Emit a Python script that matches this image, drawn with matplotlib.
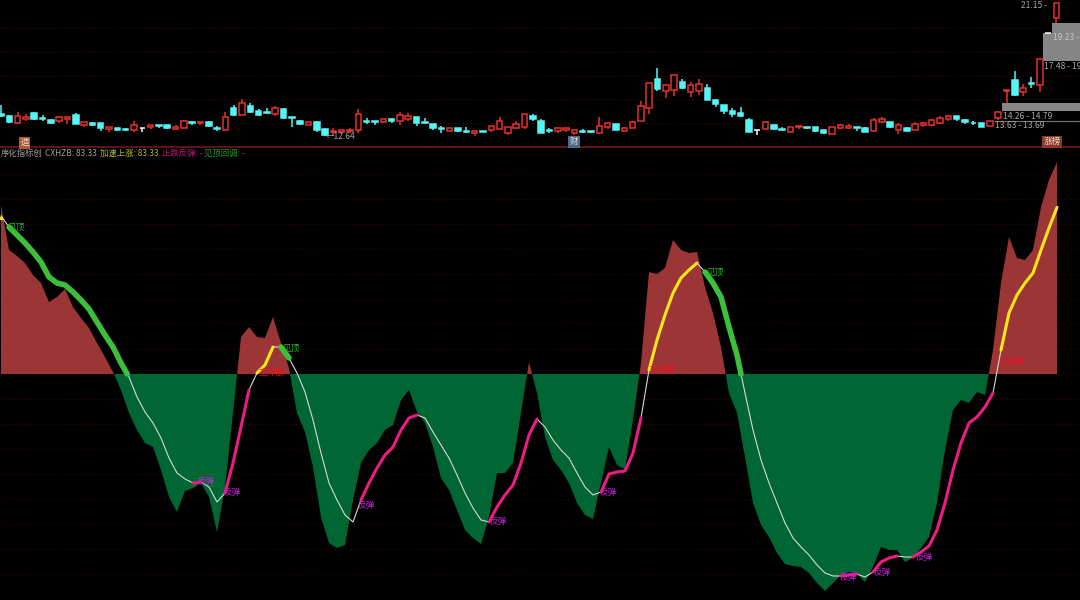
import numpy as np
import matplotlib
matplotlib.use('Agg')
import matplotlib.pyplot as plt

plt.rcParams['font.family'] = ['Noto Sans CJK SC', 'DejaVu Sans']

# candles
open_ = [14.07, 14.00, 13.53, 13.78, 14.16, 13.85, 13.72, 13.66, 13.78, 14.04,
         13.40, 13.53, 13.53, 13.15, 13.21, 13.15, 13.08, 13.21, 13.27, 13.40,
         13.40, 13.15, 13.21, 13.59, 13.53, 13.59, 13.21, 13.08, 14.48, 14.04,
         14.61, 14.29, 14.23, 14.10, 14.42, 13.91, 13.66, 13.40, 13.59, 13.15,
         12.96, 12.96, 13.02, 13.08, 13.66, 13.66, 13.59, 13.78, 13.66, 13.78,
         13.91, 13.59, 13.47, 13.21, 13.02, 13.21, 13.02, 12.89, 13.02, 13.08,
         13.15, 12.89, 13.21, 13.27, 13.97, 13.66, 13.08, 13.02, 13.08, 12.89,
         13.02, 13.02, 12.89, 13.27, 13.47, 13.02, 13.21, 13.66, 14.48, 16.32,
         15.56, 15.62, 16.13, 15.50, 15.56, 15.75, 14.99, 14.67, 14.29, 14.16,
         13.72, 13.08, 13.15, 13.40, 13.15, 12.96, 13.27, 13.27, 13.27, 13.08,
         12.83, 13.21, 13.21, 13.27, 13.21, 13.02, 13.59, 13.59, 13.08, 13.21,
         13.08, 13.40, 13.40, 13.53, 13.78, 13.97, 13.72, 13.53, 13.53, 13.34,
         13.85, 15.56, 16.26, 15.50, 16.07, 15.94, 19.27, 20.20]
close = [14.00, 13.56, 13.97, 13.91, 13.78, 13.78, 13.53, 13.91, 13.91, 13.47,
         13.59, 13.40, 13.21, 13.27, 13.08, 13.08, 13.40, 13.21, 13.40, 13.34,
         13.21, 13.27, 13.66, 13.53, 13.59, 13.34, 13.15, 13.91, 14.04, 14.80,
         14.23, 14.04, 14.16, 14.48, 13.85, 13.85, 13.47, 13.59, 13.08, 12.77,
         13.02, 13.08, 13.08, 14.10, 13.62, 13.59, 13.78, 13.66, 14.04, 13.97,
         13.53, 13.53, 13.21, 13.15, 13.21, 13.02, 12.96, 13.02, 12.96, 13.34,
         13.66, 13.27, 13.47, 14.10, 13.78, 12.89, 13.02, 13.21, 13.21, 13.08,
         12.96, 12.96, 13.34, 13.53, 13.08, 13.21, 13.59, 14.61, 16.07, 15.69,
         15.94, 16.58, 15.75, 15.94, 16.01, 14.99, 14.74, 14.29, 14.10, 13.97,
         12.96, 13.08, 13.59, 13.15, 13.11, 13.27, 13.34, 13.21, 13.02, 12.89,
         13.27, 13.40, 13.34, 13.21, 12.96, 13.72, 13.78, 13.27, 13.40, 13.02,
         13.47, 13.53, 13.72, 13.85, 13.97, 13.78, 13.59, 13.50, 13.27, 13.66,
         14.23, 15.62, 15.31, 15.75, 16.01, 17.59, 19.27, 21.15]
high = [14.67, 14.04, 14.23, 14.10, 14.23, 14.04, 13.78, 13.91, 13.91, 14.16,
        13.59, 13.59, 13.53, 13.27, 13.21, 13.21, 13.66, 13.21, 13.40, 13.40,
        13.40, 13.40, 13.72, 13.66, 13.59, 13.66, 13.34, 14.23, 14.67, 15.05,
        14.80, 14.42, 14.48, 14.61, 14.48, 13.91, 13.72, 13.59, 13.66, 13.21,
        13.21, 13.08, 13.21, 14.42, 13.85, 13.66, 13.78, 13.85, 14.23, 14.16,
        13.91, 13.85, 13.47, 13.34, 13.21, 13.21, 13.27, 13.08, 13.02, 13.34,
        13.91, 13.27, 13.66, 14.10, 14.10, 13.78, 13.21, 13.21, 13.21, 13.08,
        13.15, 13.02, 13.91, 13.59, 13.47, 13.27, 13.66, 14.93, 16.07, 17.02,
        15.94, 16.58, 16.32, 16.13, 16.32, 16.01, 15.05, 14.67, 14.48, 14.55,
        13.85, 13.08, 13.66, 13.47, 13.27, 13.27, 13.34, 13.27, 13.27, 13.08,
        13.27, 13.47, 13.47, 13.27, 13.27, 13.85, 13.91, 13.59, 13.53, 13.27,
        13.59, 13.59, 13.78, 13.97, 14.04, 13.97, 13.78, 13.66, 13.53, 13.66,
        14.29, 15.62, 16.83, 16.01, 16.45, 17.59, 19.27, 21.15]
low = [13.91, 13.53, 13.47, 13.66, 13.72, 13.66, 13.47, 13.53, 13.47, 13.47,
       13.27, 13.34, 13.02, 12.96, 13.02, 13.02, 12.96, 12.96, 13.15, 13.21,
       13.15, 13.08, 13.21, 13.40, 13.40, 13.27, 13.02, 13.02, 13.97, 14.04,
       14.16, 13.97, 14.10, 13.97, 13.78, 13.27, 13.40, 13.40, 12.96, 12.70,
       12.70, 12.83, 12.89, 12.89, 13.47, 13.40, 13.53, 13.53, 13.40, 13.66,
       13.34, 13.47, 13.08, 12.89, 12.96, 12.96, 12.89, 12.70, 12.96, 12.96,
       13.08, 12.77, 13.15, 13.15, 13.66, 12.89, 12.89, 12.89, 12.96, 12.77,
       12.89, 12.89, 12.83, 13.15, 13.08, 13.02, 13.21, 13.66, 14.10, 15.56,
       15.12, 15.24, 15.69, 15.18, 15.31, 14.99, 14.55, 14.10, 13.91, 13.91,
       12.96, 12.77, 13.08, 13.08, 13.08, 12.89, 13.15, 13.15, 12.96, 12.83,
       12.83, 13.15, 13.15, 13.02, 12.96, 13.02, 13.53, 13.21, 12.83, 13.02,
       13.08, 13.27, 13.34, 13.47, 13.66, 13.66, 13.47, 13.40, 13.27, 13.34,
       13.72, 14.80, 15.24, 15.24, 15.75, 15.50, 19.27, 19.88]

# indicator: histogram and smoothed line, sampled along the width of the panel
hist_vals = [84.5, 62, 59, 55.5, 49.5, 45.5, 36, 38.5, 42.5, 33.5, 28, 23, 15.5, 8.5, 1,
             -8, -19.5, -28, -34.5, -36.5, -48, -61.5, -69, -58.5, -57, -54.5, -61.5, -79, -56.5, -19.5,
             18.5, 23.5, 18.5, 18, 28.5, 15.5, 3,
             -19.5, -29, -46.5, -71.5, -84.5, -87, -85.5, -63, -44.5, -38, -34.5, -28, -25.5, -13, -8,
             -19, -24.5, -36.5, -52, -58, -68, -78, -82, -85, -71.5, -49.5, -49.5, -44.5, -19.5,
             6, -9.5, -31.5, -43, -48, -54.5, -64.5, -70.5, -72.5, -54.5, -36.5, -45.5, -47.5, -23,
             5.5, 51, 50, 53, 67, 62, 60.5, 61, 43.5, 30.5, 13.5,
             -9.5, -19.5, -41.5, -64.5, -75.5, -81.5, -89.5, -95, -96, -96.5, -99.5, -104.5, -108.5,
             -104.5, -100.5, -99, -100, -104, -96.5, -86.5, -88, -88, -94, -92, -87, -81.5, -64.5,
             -38, -18, -13, -14.5, -9, -10.5,
             12, 45.5, 68.5, 58, 57, 62, 83.5, 97, 106]
line_vals = [79, 73.5, 69.5, 65.5, 61, 56, 48.5, 45.5, 44.5, 41, 37, 32.5, 26, 19.5, 13.5, 5.5,
             -1.5, -11.5, -19, -24.5, -32, -42, -49.5, -52.5, -54.5, -54, -56.5, -64, -59.5, -44.5,
             -26.5, -8, 0.5, 4.5, 13.5, 13.5, 8, 0.5, -9, -23, -39.5, -54.5, -63, -70.5, -74, -63,
             -54.5, -47, -40.5, -36.5, -28, -22, -20.5, -22, -29, -35.5, -42, -50.5, -59.5, -67,
             -73, -74, -66.5, -60.5, -55.5, -44.5, -30.5, -22.5, -26.5, -33, -38, -42, -49.5, -56.5,
             -60.5, -59, -50, -49, -48.5, -39.5, -22, 2, 17, 29.5, 40.5, 48, 52, 55.5, 51, 45.5,
             38.5, 23.5, 9.5, -9.5, -28, -43, -54.5, -64.5, -74.5, -82, -86.5, -90.5, -95.5, -99.5,
             -101, -101, -100.5, -100, -101.5, -99, -94, -92, -91, -91.5, -91.5, -89, -86, -78,
             -64.5, -48, -34.5, -24.5, -21.5, -16.5, -9.5, 12, 30.5, 39.5, 45.5, 50.5, 62, 73, 83.33]

# sample ranges of line_vals drawn in each state
yellow_spans = [(32, 34), (81, 87), (125, 132)]
pink_spans = [(24, 25), (28, 31), (45, 52), (61, 67), (75, 80), (105, 107), (109, 112), (114, 124)]
green_spans = [(1, 15), (35, 36), (88, 92)]

peak_labels = [(8, 227), (283, 348), (707, 272)]
bounce_labels = [(197, 481), (224, 492), (358, 505), (490, 521), (600, 492), (840, 577), (874, 572), (915, 557)]
rise_labels = [(259, 372), (649, 369), (999, 361)]

# unfilled price gaps: bottom, top, left edge
gap_low = [14.26, 17.48, 19.23]
gap_high = [14.79, 19.23, 19.88]
gap_left = [1002, 1043, 1052]


fig = plt.figure(figsize=(10.8, 6), dpi=100, facecolor='black')
ax_k = fig.add_axes([0, 452 / 600, 1, 148 / 600])
ax_i = fig.add_axes([0, 0, 1, 452 / 600])
for ax in (ax_k, ax_i):
    ax.set_facecolor('black')
    ax.set_xlim(0, 1080)
    ax.set_axis_off()

ax_k.set_ylim(11.94, 21.34)
ax_i.set_ylim(-113, 113)

# dotted grid
for price in [13.5, 15.0, 16.5, 18.0, 19.5]:
    ax_k.axhline(price + 0.03, color='#4a1212', lw=0.7, ls=(0, (1, 3)), zorder=0)
for level in np.arange(-100, 101, 12.5):
    ax_i.axhline(level, color='#401010', lw=0.7, ls=(0, (1, 3)), zorder=0)

# candles
x_k = 1 + 8.31 * np.arange(len(open_))
for i in range(len(open_)):
    if close[i] > open_[i]:
        col, face = '#e6302c', 'black'
    elif close[i] < open_[i]:
        col, face = '#55f5f5', '#55f5f5'
    else:
        col, face = 'white', 'white'
    ax_k.vlines(x_k[i], low[i], high[i], color=col, lw=1.1, zorder=2)
    ax_k.bar(x_k[i], close[i] - open_[i], bottom=open_[i], width=5.5,
             facecolor=face, edgecolor=col, linewidth=1.1, zorder=3)

# gaps
for lo, hi, left in zip(gap_low, gap_high, gap_left):
    ax_k.fill_between([left, 1080], lo, hi, color='#868686', lw=0, zorder=1)
ax_k.plot([995, 1080], [13.68, 13.68], color='#777777', lw=0.8, zorder=1)

txt = dict(fontsize=6.1, color='#a8a8a8', va='center', zorder=5)
ax_k.text(1021, 21.0, '21.15 -', **txt)
ax_k.text(1053, 18.96, '19.23 -', **dict(txt, color='#c4c4c4'))
ax_k.text(1044, 17.14, '17.48 - 19', **txt)
ax_k.text(1003, 13.97, '14.26 - 14.79', **txt)
ax_k.text(995, 13.34, '13.63 - 13.69', **txt)
ax_k.text(326, 12.64, '←12.64', **txt)

# badges
badge = dict(fontsize=6.2, ha='center', va='center', color='#f0e0d0', zorder=6)
ax_k.text(24.5, 12.27, '造', bbox=dict(fc='#b05a30', ec='none', pad=1), **badge)
ax_k.text(574, 12.33, '财', bbox=dict(fc='#4a6a8a', ec='none', pad=1), **badge)
ax_k.text(1052, 12.33, '涨榜', bbox=dict(fc='#8a3a28', ec='none', pad=1), **badge)

ax_k.axhline(12.0, color='#7a1a1a', lw=1.1, zorder=4)

# indicator panel
x_i = 1 + 8 * np.arange(len(hist_vals))
hist = np.array(hist_vals, dtype=float)
line = np.array(line_vals, dtype=float)
ax_i.fill_between(x_i, hist, 0, where=hist >= 0, interpolate=True, color='#9c3535', lw=0, zorder=1)
ax_i.fill_between(x_i, hist, 0, where=hist <= 0, interpolate=True, color='#006633', lw=0, zorder=1)

ax_i.plot(x_i, line, color='#d8d8d8', lw=0.8, zorder=2)
for a, b in green_spans:
    gx, gy = list(x_i[a:b + 1]), list(line[a:b + 1])
    # falling state lasts until the line reaches zero
    if line[b + 1] < 0 < line[b]:
        gx.append(np.interp(0, [line[b + 1], line[b]], [x_i[b + 1], x_i[b]]))
        gy.append(0)
    ax_i.plot(gx, gy, color='#3cc03c', lw=4.0, solid_capstyle='round', zorder=3)
for a, b in pink_spans:
    ax_i.plot(x_i[a:b + 1], line[a:b + 1], color='#ee1b84', lw=2.2, solid_capstyle='round', zorder=3)
for a, b in yellow_spans:
    ax_i.plot(x_i[a:b + 1], line[a:b + 1], color='#ffe61a', lw=2.2, solid_capstyle='round', zorder=3)
ax_i.plot(x_i[0], line[0] - 1, 's', color='#ffe61a', ms=2, zorder=3)

lab = dict(fontsize=6.2, va='center', zorder=4)
for x, y in peak_labels:
    ax_i.text(x, (374 - y) / 2, '见顶', color='#22b822', **lab)
for x, y in bounce_labels:
    ax_i.text(x, (374 - y) / 2, '反弹', color='#d020e0', **lab)
for x, y in rise_labels:
    ax_i.text(x, (374 - y) / 2, '主升浪', color='#f01020', **lab)

# header row
head = [(1, '序化指标创', '#a0a0a0'), (45, 'CXHZB: 83.33', '#a0a0a0'),
        (100, '加速上涨: 83.33', '#b8b820'), (162, '止跌反弹: -', '#c0107a'),
        (204, '见顶回调: -', '#2a9a2a')]
for x, s, c in head:
    ax_i.text(x, 110.5, s, color=c, fontsize=6.0, va='center', zorder=5)

fig.savefig('out.png', dpi=100, facecolor='black')
